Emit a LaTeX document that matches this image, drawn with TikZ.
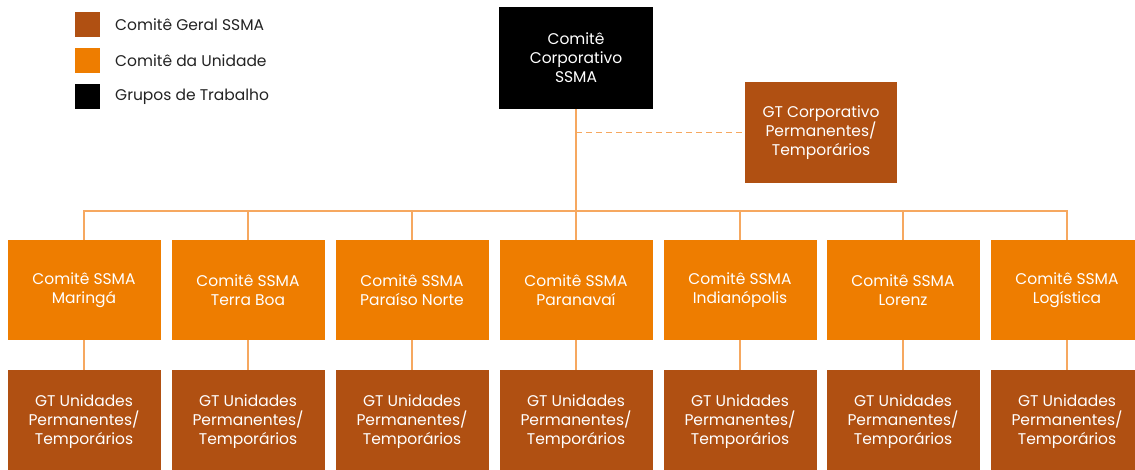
\documentclass[tikz,border=0pt]{standalone}
\usepackage{fontspec}
\setmainfont{Poppins}
\definecolor{brownbox}{RGB}{176,80,18}
\definecolor{orangebox}{RGB}{238,125,0}
\definecolor{linec}{RGB}{246,168,96}
\definecolor{legtext}{RGB}{35,35,35}
\begin{document}
\begin{tikzpicture}[x=1pt,y=-1pt,
  box/.style={minimum width=153pt, inner sep=0pt, align=center, text=white,
    font=\fontsize{15.5}{19}\selectfont},
  unitbox/.style={box, fill=orangebox, minimum height=100pt},
  gtbox/.style={box, fill=brownbox, minimum height=104pt},
  conn/.style={draw=linec, line width=1.5pt},
  legsq/.style={minimum width=25pt, minimum height=25pt, inner sep=0pt},
  legtxt/.style={anchor=west, inner sep=0pt, text=legtext, font=\fontsize{15.5}{18}\selectfont}]
\useasboundingbox (0,0) rectangle (1135,469);
\clip (0,0) rectangle (1135,469);
\fill[white] (0,0) rectangle (1135,469);

% legend
\node[legsq, fill=brownbox] (l1) at (87,24) {};
\node[legsq, fill=orangebox] (l2) at (87,60) {};
\node[legsq, fill=black] (l3) at (87,96) {};
\node[legtxt] (t1) at (115,25) {Comitê Geral SSMA};
\node[legtxt] (t2) at (115,61) {Comitê da Unidade};
\node[legtxt] (t3) at (115,97) {Grupos de Trabalho};

% top
\node[box, fill=black, minimum width=154pt, minimum height=102pt] (top) at (576,58) {Comitê\\Corporativo\\SSMA};
\node[box, fill=brownbox, minimum width=152pt, minimum height=101pt] (gtc) at (821,132.5) {GT Corporativo\\Permanentes/\\Temporários};

% units
\node[unitbox] (c1) at (84,290) {Comitê SSMA\\Maringá};
\node[unitbox] (c2) at (248,290) {Comitê SSMA\\Terra Boa};
\node[unitbox] (c3) at (412,290) {Comitê SSMA\\Paraíso Norte};
\node[unitbox] (c4) at (576,290) {Comitê SSMA\\Paranavaí};
\node[unitbox] (c5) at (740,290) {Comitê SSMA\\Indianópolis};
\node[unitbox] (c6) at (903,290) {Comitê SSMA\\Lorenz};
\node[unitbox] (c7) at (1067,290) {Comitê SSMA\\Logística};

\foreach \i in {1,...,7}{
  \node[gtbox] (g\i) at (c\i |- 0,422) {GT Unidades\\Permanentes/\\Temporários};
  \draw[conn] (c\i.south) -- (g\i.north);
}

\coordinate (bus) at (576,211);
\draw[conn] (top.south) -- (top.south |- bus);
\draw[conn] (c1.north) -- (c1.north |- bus) -- (c7.north |- bus) -- (c7.north);
\foreach \i in {2,...,6}{
  \draw[conn] (c\i.north) -- (c\i.north |- bus);
}
\draw[conn, dash pattern=on 6pt off 4pt] (top.south |- gtc.west) -- (gtc.west);
\end{tikzpicture}
\end{document}
